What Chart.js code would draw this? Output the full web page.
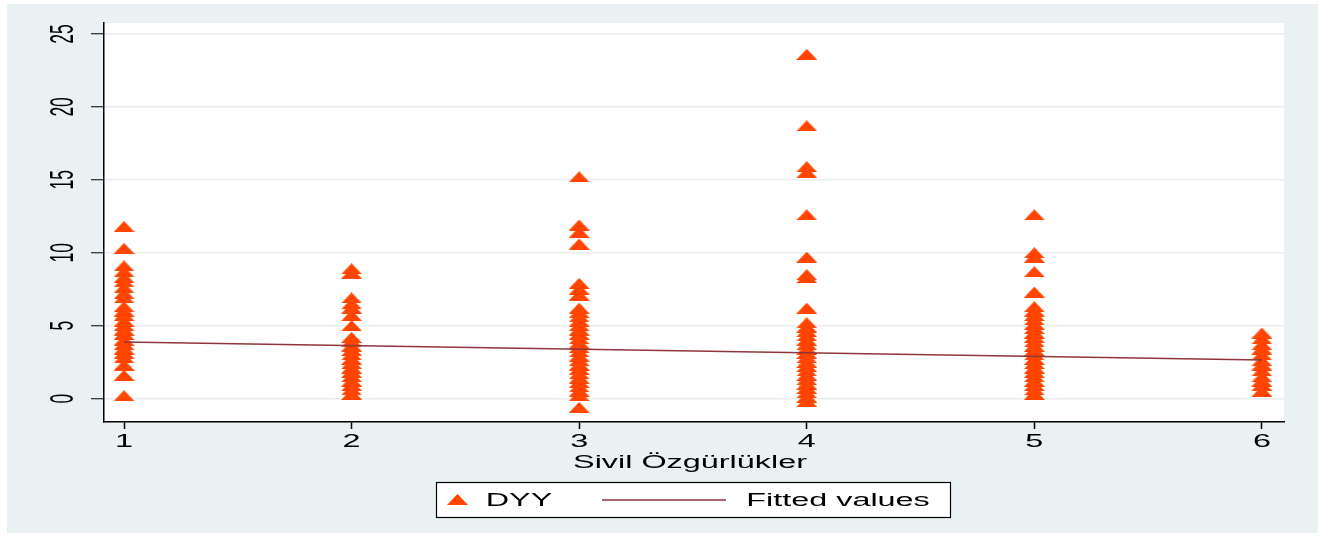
<!DOCTYPE html>
<html>
<head>
<meta charset="utf-8">
<script src="https://cdn.jsdelivr.net/npm/chart.js@4.4.1/dist/chart.umd.min.js"></script>
<style>
  html, body { margin: 0; padding: 0; background: #fff; }
  #wrap { width: 1342px; height: 540px; }
</style>
</head>
<body>
<div id="wrap"><canvas id="chart" width="1342" height="540"></canvas></div>
<script>
// categories on the x axis (Sivil Özgürlükler score)
const xCats = [1, 2, 3, 4, 5, 6];

// DYY values per category
const dyy1 = [11.8, 10.3, 9.1, 8.7, 8.3, 8.0, 7.6, 7.2, 6.9, 6.3, 6.0, 5.7, 5.3, 5.0, 4.7, 4.4, 4.0, 3.7, 3.4, 3.1, 2.8, 2.3, 1.6, 0.2];
const dyy2 = [8.9, 8.6, 6.9, 6.5, 6.2, 5.7, 5.0, 4.2, 3.9, 3.6, 3.3, 3.0, 2.7, 2.4, 2.1, 1.8, 1.5, 1.2, 0.9, 0.6, 0.3];
const dyy3 = [15.2, 11.9, 11.4, 10.6, 7.9, 7.5, 7.1, 6.2, 5.9, 5.6, 5.3, 5.0, 4.7, 4.4, 4.1, 3.8, 3.5, 3.2, 2.9, 2.6, 2.3, 2.0, 1.7, 1.4, 1.1, 0.8, 0.5, 0.2, -0.6];
const dyy4 = [23.6, 18.7, 15.9, 15.5, 12.6, 9.7, 8.5, 8.3, 6.2, 5.2, 4.9, 4.6, 4.3, 4.0, 3.7, 3.4, 3.1, 2.8, 2.5, 2.2, 1.9, 1.6, 1.3, 1.0, 0.7, 0.4, 0.1, -0.2];
const dyy5 = [12.6, 10.0, 9.7, 8.7, 7.3, 6.3, 6.0, 5.7, 5.4, 5.1, 4.8, 4.5, 4.2, 3.9, 3.6, 3.3, 3.0, 2.7, 2.4, 2.1, 1.8, 1.5, 1.2, 0.9, 0.6, 0.3];
const dyy6 = [4.5, 4.1, 3.7, 3.4, 3.0, 2.6, 2.3, 1.9, 1.5, 1.2, 0.9, 0.5];

// fitted line end points
const fittedX = [1, 6];
const fittedY = [3.88, 2.65];

// axis ticks and texts
const xTicks = [1, 2, 3, 4, 5, 6];
const yTicks = [0, 5, 10, 15, 20, 25];
const xTitle = 'Sivil Özgürlükler';
const seriesNames = ['DYY', 'Fitted values'];

const MARKER = '#ff4500';
const FITLINE = '#90353b';
const BG = '#e9f1f3';
const FONT = '"Liberation Sans", Arial, sans-serif';
const STRETCH = 1.85;   // the original is squeezed vertically

const dyyCols = [dyy1, dyy2, dyy3, dyy4, dyy5, dyy6];
const dyyPoints = [];
dyyCols.forEach((col, i) => col.forEach(v => dyyPoints.push({ x: xCats[i], y: v })));
const fittedPoints = fittedX.map((x, i) => ({ x: x, y: fittedY[i] }));

// flat triangle marker
function makeTriangle(w, h) {
    const c = document.createElement('canvas');
    c.width = w; c.height = h;
    const g = c.getContext('2d');
    g.fillStyle = MARKER;
    g.beginPath();
    g.moveTo(w / 2, 0);
    g.lineTo(w, h);
    g.lineTo(0, h);
    g.closePath();
    g.fill();
    return c;
}
const tri = makeTriangle(21, 11);

function stretchedText(ctx, text, x, y, size, rotate) {
    ctx.save();
    ctx.translate(x, y);
    ctx.scale(STRETCH, 1);
    if (rotate) ctx.rotate(-Math.PI / 2);
    ctx.font = size + 'px ' + FONT;
    ctx.fillStyle = '#000';
    ctx.textAlign = 'center';
    ctx.textBaseline = 'middle';
    ctx.fillText(text, 0, 0);
    ctx.restore();
}

const frame = {
    id: 'frame',
    beforeDraw(chart) {
        const ctx = chart.ctx, a = chart.chartArea;
        ctx.save();
        ctx.fillStyle = '#fff';
        ctx.fillRect(0, 0, chart.width, chart.height);
        ctx.fillStyle = BG;
        ctx.fillRect(7, 4, 1311, 529);
        ctx.fillStyle = '#fff';
        ctx.fillRect(a.left, a.top, a.right - a.left, a.bottom - a.top);
        ctx.restore();
    },
    afterDraw(chart) {
        const ctx = chart.ctx;
        const xs = chart.scales.x, ys = chart.scales.y;
        yTicks.forEach(v => stretchedText(ctx, String(v), 64, ys.getPixelForValue(v), 17.5, true));
        xTicks.forEach(v => stretchedText(ctx, String(v), xs.getPixelForValue(v), 442, 17.5, false));
        stretchedText(ctx, xTitle, 690, 463, 17.5, false);

        // legend
        ctx.save();
        ctx.fillStyle = '#fff';
        ctx.fillRect(436.5, 482.5, 514, 35);
        ctx.strokeStyle = '#000';
        ctx.lineWidth = 1.2;
        ctx.strokeRect(436.5, 482.5, 514, 35);
        ctx.drawImage(tri, 447, 494);
        ctx.strokeStyle = FITLINE;
        ctx.lineWidth = 1.5;
        ctx.beginPath();
        ctx.moveTo(602, 500);
        ctx.lineTo(726, 500);
        ctx.stroke();
        ctx.restore();
        stretchedText(ctx, seriesNames[0], 519, 501, 17.5, false);
        stretchedText(ctx, seriesNames[1], 838, 501, 17.5, false);
    }
};

new Chart(document.getElementById('chart'), {
    type: 'scatter',
    data: {
        datasets: [
            {
                label: seriesNames[1],
                data: fittedPoints,
                showLine: true,
                borderColor: FITLINE,
                borderWidth: 1.5,
                pointRadius: 0,
                order: 0
            },
            {
                label: seriesNames[0],
                data: dyyPoints,
                pointStyle: tri,
                pointRadius: 10,
                order: 1
            }
        ]
    },
    options: {
        responsive: false,
        animation: false,
        layout: { padding: { top: 23, right: 58, left: 0, bottom: 0 } },
        plugins: { legend: { display: false }, tooltip: { enabled: false } },
        scales: {
            x: {
                type: 'linear',
                min: 0.912,
                max: 6.097,
                afterBuildTicks: s => { s.ticks = xTicks.map(v => ({ value: v })); },
                afterFit: s => { s.height = 118; },
                ticks: { display: false },
                grid: { drawOnChartArea: false, drawTicks: true, tickLength: 7, tickColor: '#000', tickWidth: 1.5 },
                border: { color: '#000', width: 1.5 }
            },
            y: {
                min: -1.6,
                max: 25.75,
                afterBuildTicks: s => { s.ticks = yTicks.map(v => ({ value: v })); },
                afterFit: s => { s.width = 104; },
                ticks: { display: false },
                grid: { color: '#e6eef0', lineWidth: 1.5, drawTicks: true, tickLength: 13, tickColor: '#000', tickWidth: 1 },
                border: { color: '#000', width: 1.5 }
            }
        }
    },
    plugins: [frame]
});
</script>
</body>
</html>
